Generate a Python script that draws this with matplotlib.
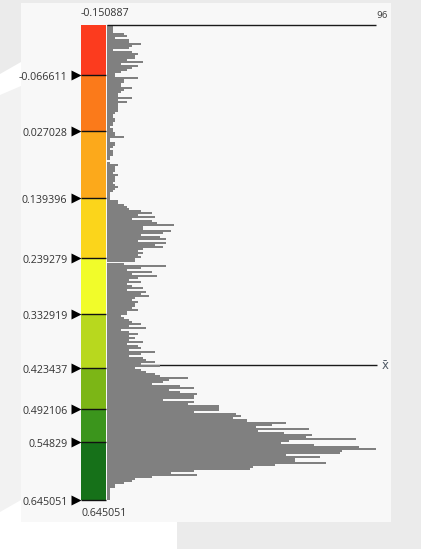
import numpy as np
import matplotlib
matplotlib.use("Agg")
import matplotlib.pyplot as plt
from matplotlib.patches import Rectangle, Polygon
import matplotlib.transforms as mtransforms

# ---------------- data ----------------
v_min = -0.150887
v_max = 0.645051
boundaries = [-0.150887, -0.066611, 0.027028, 0.139396, 0.239279,
              0.332919, 0.423437, 0.492106, 0.54829, 0.645051]
seg_colors = ["#fc3b1e", "#fb7a1a", "#fca91b", "#fbd51b", "#f1fc2a",
              "#b8d81e", "#7cb616", "#3b951c", "#167119"]
tick_values = [-0.066611, 0.027028, 0.139396, 0.239279, 0.332919,
               0.423437, 0.492106, 0.54829, 0.645051]
tick_labels = ["-0.066611", "0.027028", "0.139396", "0.239279", "0.332919",
               "0.423437", "0.492106", "0.54829", "0.645051"]
max_count = 96
mean_value = 0.41884

counts = [
    2, 2, 2, 2, 6, 7, 3, 8, 8, 12, 9, 8, 2, 9, 11, 10, 10, 7, 13, 5, 11, 9, 7, 5, 3, 3,
    11, 6, 6, 5, 5, 9, 6, 5, 4, 4, 9, 4, 7, 4, 4, 4,
    4, 3, 2, 2, 3, 3, 2, 2, 1, 2, 2, 3, 3, 6, 1, 1, 3, 3, 2, 1, 2, 2, 2, 1, 1, 0, 1, 4,
    3, 3, 3, 2, 4, 3, 3, 3, 2, 3, 4, 3, 2, 1, 1, 1, 1, 4, 4,
    6, 7, 8, 12, 16, 11, 17, 9, 16, 18, 24, 13, 13, 23, 20, 12, 19, 21, 11, 21, 17, 20,
    13, 11, 13, 11, 12, 10, 10, 6, 21, 12, 7, 16, 9, 18, 11, 8, 12, 7, 9, 13, 7,
    14, 12, 15, 10, 9, 11, 10, 10, 9, 11, 7, 7, 5, 6, 8, 9, 12, 8, 14, 5, 8, 11, 8, 10,
    8, 13, 7, 11, 12, 8, 17, 12, 8, 13, 14, 17, 12, 19, 10, 12, 14, 17,
    19, 29, 22, 20, 16, 26, 31, 22, 26, 32, 31, 31, 20, 31, 29, 40, 40, 40, 31, 46, 48,
    45, 50, 64, 59, 53, 72, 54, 63, 73, 71, 89,
    65, 62, 74, 90, 96, 84, 83, 64, 76, 67, 67, 78, 60, 52, 51, 31, 23, 32, 16, 10, 9,
    6, 3, 3, 1, 1, 1, 1, 1, 1,
]

# ---------------- figure ----------------
W, H = 421, 549
fig = plt.figure(figsize=(W / 100, H / 100), dpi=100)
fig.patch.set_facecolor("white")
plt.rcParams["font.family"] = ["Open Sans", "DejaVu Sans"]


def fx(x):
    return x / W


def fy(y):
    return 1 - y / H


def rect(x0, y0, x1, y1, color, z=-2):
    fig.add_artist(Rectangle((fx(x0), fy(y1)), fx(x1) - fx(x0), fy(y0) - fy(y1),
                             transform=fig.transFigure, facecolor=color,
                             edgecolor="none", zorder=z))


def poly(pts, color, z=-2):
    fig.add_artist(Polygon([(fx(a), fy(b)) for a, b in pts], closed=True,
                           transform=fig.transFigure, facecolor=color,
                           edgecolor="none", zorder=z))


gray_bg = "#ebebeb"
# decorative background shapes
rect(0, 0, W, 3, gray_bg)
rect(391, 0, W, H, gray_bg)
rect(177, 522, W, H, gray_bg)
poly([(0, 0), (21, 0), (21, 62), (0, 74)], gray_bg)
poly([(0, 95), (21, 86), (21, 500), (0, 512)], "#f2f2f2")
# panel
rect(21, 3, 391, 522, "#f8f8f8", z=-1)

top_px, bot_px = 25, 500
ax_bottom = fy(bot_px)
ax_height = (bot_px - top_px) / H

# ---------------- histogram ----------------
ax = fig.add_axes([fx(107), ax_bottom, fx(376) - fx(107), ax_height])
ax.set_facecolor("none")
n = len(counts)
edges = np.linspace(v_min, v_max, n + 1)
centers = (edges[:-1] + edges[1:]) / 2
ax.barh(centers, counts, height=(edges[1] - edges[0]) * 1.0, left=0,
        color="#808080", edgecolor="none", zorder=2)
ax.set_xlim(0, max_count)
ax.set_ylim(v_max, v_min)
ax.axis("off")
ax.plot([0, max_count], [v_min, v_min], color="#1a1a1a", lw=1.0,
        clip_on=False, zorder=3, solid_capstyle="butt")
ax.plot([0, max_count * 1.004], [mean_value, mean_value], color="#1a1a1a", lw=1.0,
        clip_on=False, zorder=1, solid_capstyle="butt")
ax.text(max_count * 1.0, v_min - 0.008, "96", fontsize=6.5, color="#444444",
        ha="left", va="bottom", transform=ax.transData,
        family=["DejaVu Sans"])
ax.text(max_count * 1.02, mean_value, "x\u0304", fontsize=8.5, color="#505a66",
        ha="left", va="center", family=["DejaVu Sans"])

# ---------------- colour bar ----------------
cax = fig.add_axes([fx(81), ax_bottom, fx(106) - fx(81), ax_height])
cax.set_xlim(0, 1)
cax.set_ylim(v_max, v_min)
cax.axis("off")
for i, c in enumerate(seg_colors):
    cax.axhspan(boundaries[i], boundaries[i + 1], color=c, lw=0)
for v in boundaries[1:]:
    cax.plot([0, 1], [v, v], color="#111111", lw=1.0, clip_on=False,
             solid_capstyle="butt")

trans = mtransforms.blended_transform_factory(cax.transAxes, cax.transData)
trans_txt = mtransforms.offset_copy(trans, fig=fig, x=0, y=-2.5, units="dots")
for v, lab in zip(tick_values, tick_labels):
    cax.plot([-0.22], [v], marker=">", ms=6.5, color="black", transform=trans,
             clip_on=False, mec="none")
    cax.text(-0.54, v, lab, transform=trans_txt, ha="right", va="center",
             fontsize=7.7, color="#333333")

cax.text(0, v_min - 0.010, "-0.150887", transform=trans, ha="left",
         va="bottom", fontsize=7.7, color="#333333")
cax.text(0, v_max + 0.0135, "0.645051", transform=trans, ha="left",
         va="top", fontsize=7.7, color="#333333")

fig.savefig("out.png", dpi=100, facecolor=fig.get_facecolor())
